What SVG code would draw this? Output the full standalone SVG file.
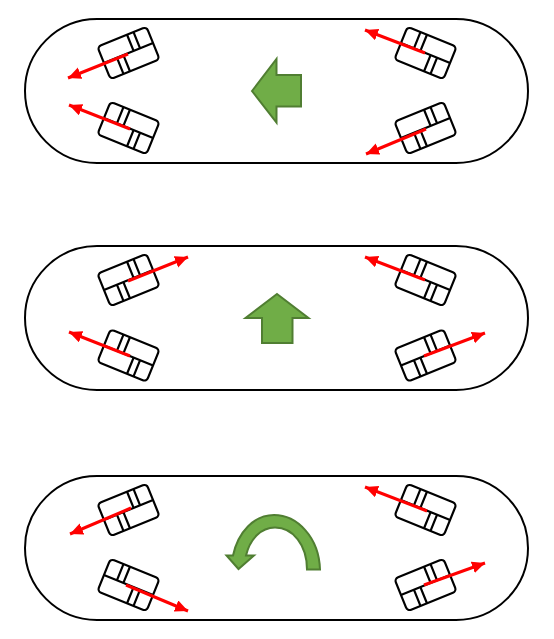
<svg xmlns="http://www.w3.org/2000/svg" xmlns:xlink="http://www.w3.org/1999/xlink" width="554" height="639" viewBox="0 0 554 639">
<style>
.body{fill:#fff;stroke:#000;stroke-width:2}
.w{fill:#fff;stroke:#000;stroke-width:2.200}
.l{fill:none;stroke:#000;stroke-width:2.200}
.v{stroke:#f00;stroke-width:3;fill:none;marker-end:url(#ah)}
.g{fill:#70AD47;stroke:#507E32;stroke-width:2}
</style>
<defs>
<marker id="ah" markerUnits="userSpaceOnUse" markerWidth="15" markerHeight="14" refX="13" refY="6" orient="auto">
<path d="M0,0L13,6L0,12Z" fill="#f00"/>
</marker>
<g id="wa">
<rect class="w" x="-26.500" y="-17.500" width="53" height="35" rx="4"/>
<path class="l" d="M-26.500,0H26.500M5.500,-17.500V0M12.500,-17.500V0M-12.500,0V17.500M-5.500,0V17.500"/>
</g>
<g id="wb">
<rect class="w" x="-26.500" y="-17.500" width="53" height="35" rx="4"/>
<path class="l" d="M-26.500,0H26.500M-12.500,-17.500V0M-5.500,-17.500V0M5.500,0V17.500M12.500,0V17.500"/>
</g>
</defs>
<g id="robot-1">
<rect class="body" x="25" y="19" width="503" height="144" rx="72"/>
<use xlink:href="#wa" href="#wa" transform="translate(128.500,53) rotate(-22)"/>
<use xlink:href="#wb" href="#wb" transform="translate(128.500,128) rotate(22)"/>
<use xlink:href="#wb" href="#wb" transform="translate(425.500,53) rotate(22)"/>
<use xlink:href="#wa" href="#wa" transform="translate(425.500,128) rotate(-22)"/>
<path class="g" d="M252,91L276.500,59V75H301V106.500H276.500V122.500Z"/>
</g>
<g id="robot-2">
<rect class="body" x="25" y="246" width="503" height="144" rx="72"/>
<use xlink:href="#wa" href="#wa" transform="translate(128.500,280) rotate(-22)"/>
<use xlink:href="#wb" href="#wb" transform="translate(128.500,355.500) rotate(22)"/>
<use xlink:href="#wb" href="#wb" transform="translate(425.500,280) rotate(22)"/>
<use xlink:href="#wa" href="#wa" transform="translate(425.500,355.500) rotate(-22)"/>
<path class="g" d="M277,294L308.500,318H292.500V343H262V318H245.500Z"/>
</g>
<g id="robot-3">
<rect class="body" x="25" y="476" width="503" height="144" rx="72"/>
<use xlink:href="#wa" href="#wa" transform="translate(128.500,510) rotate(-22)"/>
<use xlink:href="#wb" href="#wb" transform="translate(128.500,585) rotate(22)"/>
<use xlink:href="#wb" href="#wb" transform="translate(425.500,510) rotate(22)"/>
<use xlink:href="#wa" href="#wa" transform="translate(425.500,585) rotate(-22)"/>
<path class="g" d="M320,569.500C319,537 297,515 274,515C254,515 238,532 233,555.500H226.500L238.500,569L254,555.500H246C250,539 261,527.500 275,527.500C293,527.500 307,545 307,569.500Z"/>
</g>
<g id="connectors">
<path class="v" d="M128,54L68,78"/>
<path class="v" d="M130,129L69,105"/>
<path class="v" d="M425,53L365,30"/>
<path class="v" d="M426,129L366,154"/>
<path class="v" d="M128,281L188,257"/>
<path class="v" d="M130,356L69,332"/>
<path class="v" d="M425,280L365,257"/>
<path class="v" d="M424,356L485,333"/>
<path class="v" d="M131,508L70,534"/>
<path class="v" d="M126,585L188,611"/>
<path class="v" d="M427,511L365,487"/>
<path class="v" d="M424,585L485,563"/>
</g>
</svg>
